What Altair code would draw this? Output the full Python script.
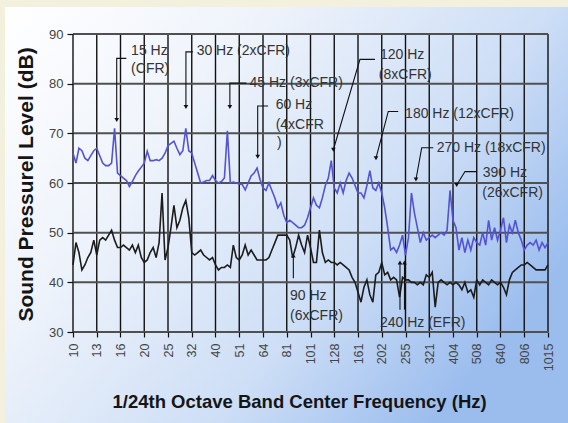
import json
import altair as alt
import pandas as pd

# ---------------- data ----------------
tick_labels = ['10', '13', '16', '20', '25', '32', '40', '51', '64', '81', '101',
               '128', '161', '202', '255', '321', '404', '508', '640', '806', '1015']
y_ticks = [30, 40, 50, 60, 70, 80, 90]

# 1/24th-octave band levels (dB), starting at 10 Hz
blue_spl = [
    66, 64, 67, 66.5, 65, 64.5, 65.5, 66.5,
    67, 65.5, 64, 63.5, 63.5, 64, 71, 62,
    61.5, 61, 60.5, 59.3, 60.3, 61.5, 62.4, 63.2,
    64, 66.4, 64.5, 64.5, 64.7, 64.5, 65, 66,
    67.5, 68, 68.4, 67, 65.7, 66.5, 71, 66.5,
    66, 64, 62, 60, 60.2, 60.5, 60.5, 61.5,
    60.5, 60, 60.3, 61, 70.5, 60, 60.2, 60,
    59.8, 59.7, 58.6, 60, 61.4, 62, 63, 60.7,
    59, 58.5, 60, 58.5, 57, 55, 56, 53.5,
    52, 52.5, 52, 51.5, 51, 51, 51.5, 53,
    55, 57, 55.5, 55, 57, 59.5, 61, 64.5,
    59, 58, 60, 58, 60.5, 62, 61, 59.5,
    58, 58, 57, 59.5, 62.5, 59, 58.5, 60,
    58, 55, 51, 46.5, 47, 46, 47.5, 49.5,
    45.5, 49, 58, 54, 51, 48, 50, 48.5,
    49, 49.5, 49, 49.5, 50, 49.5, 50.5, 58.5,
    52.5, 51, 46.5, 49, 46, 48.5, 46.5, 49,
    48, 47.5, 50, 47.5, 52.5, 48.5, 51, 48.5,
    50.5, 53, 48, 51.5, 50, 52.5, 50, 48.5,
    46.5, 47.5, 48, 47.5, 48.5, 46.5, 48, 47,
    48,
]
black_spl = [
    43.5, 48, 46, 42.5, 43.5, 45, 46, 48.5,
    45.5, 48.5, 49, 48.5, 49.5, 50.5, 48.5, 47,
    47, 47.5, 47, 46.5, 47.5, 46, 47.5, 45,
    44, 44.5, 46, 47, 45, 48, 58, 44.5,
    47, 51, 55.5, 51, 52.5, 55, 56.5, 53,
    46, 45.5, 46, 46.5, 45.5, 45, 44.5, 45,
    43.5, 42.5, 43, 43, 43.5, 43, 47.5, 45,
    44.5, 45.5, 47.5, 45.5, 46.5, 45.5, 44.5, 44.5,
    44.5, 44.5, 45, 46.5, 48, 49.5, 49.5, 49.5,
    49.5, 48.5, 45, 47, 49.5, 47.5, 46, 49.5,
    47, 44, 44, 50.5, 46, 44, 44.5, 44,
    44, 43.5, 44, 43.5, 43, 42.5, 41, 40,
    38, 36, 39, 40.5, 37.5, 36, 41.5, 42,
    44, 41.5, 42, 40.5, 41, 40.5, 37, 41,
    40.5, 40.5, 40, 40, 39.5, 40, 39.5, 41.5,
    41, 42, 35, 40, 40.5, 40, 39.5, 40,
    39.5, 40, 39.5, 38.5, 40, 38, 38.5, 37,
    40.5, 39.5, 40.5, 40, 39.5, 40.5, 40, 39.5,
    40, 39, 37.5, 40.5, 42, 42.5, 43, 43.5,
    43.5, 44, 43.5, 43, 42.5, 42.5, 42.5, 42.5,
    43.5,
]

# annotation texts: (text, freq Hz, dB)
ann_text = [
    ("15 Hz", 17.6, 86.6), ("(CFR)", 17.6, 83.0),
    ("30 Hz (2xCFR)", 33.3, 86.6),
    ("45 Hz (3xCFR)", 55.7, 80.1),
    ("60 Hz", 71.8, 75.7), ("(4xCFR", 71.8, 71.7), (")", 72.7, 68.1),
    ("120 Hz", 198, 85.8), ("(8xCFR)", 196, 81.8),
    ("180 Hz (12xCFR)", 253, 73.9),
    ("270 Hz (18xCFR)", 344, 67.0),
    ("390 Hz", 538, 62.0), ("(26xCFR)", 536, 58.0),
    ("90 Hz", 82.6, 37.3), ("(6xCFR)", 82.6, 33.3),
    ("240 Hz (EFR)", 198, 31.9),
]
# leader lines: id -> list of (freq Hz, dB), last point is the arrow tip
leaders = {
    "15": [(16.8, 85.1), (15.3, 85.1), (15.3, 72.7)],
    "30": [(32.1, 86.4), (30.0, 86.4), (30.0, 75.3)],
    "45": [(54.0, 80.1), (46.0, 80.1), (46.0, 75.3)],
    "60": [(66.7, 75.5), (60.3, 75.5), (60.3, 65.3)],
    "120": [(188.7, 84.9), (163.1, 84.9), (125.9, 66.7)],
    "180": [(236.7, 74.4), (214.8, 74.4), (190.6, 65.0)],
    "270": [(332.8, 67.1), (297.4, 67.1), (281.2, 60.7)],
    "390": [(508.0, 62.3), (453.1, 62.3), (417.9, 59.6)],
    "90": [(85.3, 40.8), (85.3, 45.4)],
    "240a": [(240.7, 34.5), (240.7, 44.0)],
    "240b": [(251.5, 34.5), (251.5, 44.0)],
}
up_arrows = ["90", "240a", "240b"]

# ---------------- tables ----------------
n = len(blue_spl)
freqs = [10 * 2 ** (i / 24) for i in range(n)]
tick_values = [10 * 2 ** (k / 3) for k in range(len(tick_labels))]

lines_df = pd.concat([
    pd.DataFrame({"freq": freqs, "spl": blue_spl, "series": "A", "idx": range(n)}),
    pd.DataFrame({"freq": freqs, "spl": black_spl, "series": "B", "idx": range(n)}),
])
vgrid_df = pd.DataFrame({"freq": tick_values})
hgrid_df = pd.DataFrame({"spl": y_ticks})
text_df = pd.DataFrame(ann_text, columns=["label", "freq", "spl"])
lead_rows, tip_rows = [], []
for key, pts in leaders.items():
    for j, (f, v) in enumerate(pts):
        lead_rows.append({"id": key, "ord": j, "freq": f, "spl": v})
    tip_rows.append({"id": key, "freq": pts[-1][0], "spl": pts[-1][1],
                     "shape": "triangle-up" if key in up_arrows else "triangle-down"})
lead_df = pd.DataFrame(lead_rows)
tip_df = pd.DataFrame(tip_rows)

# ---------------- scales / axes ----------------
FONT = "Liberation Sans"
label_expr = json.dumps(tick_labels) + "[round(3*log(datum.value/10)/log(2))]"
xscale = alt.Scale(type="log", domain=[10, tick_values[-1]], nice=False, zero=False)
yscale = alt.Scale(domain=[30, 90], nice=False, zero=False)
xaxis = alt.Axis(values=tick_values, labelExpr=label_expr, labelAngle=270,
                 labelAlign="right", labelBaseline="middle", labelFontSize=12.5,
                 labelFont=FONT, labelColor="#444444", labelPadding=6,
                 labelOverlap=False, labelFlush=False,
                 tickSize=5, tickColor="#111111", tickWidth=1.2,
                 domain=False, grid=False, zindex=1,
                 title="1/24th Octave Band Center Frequency (Hz)",
                 titleFont=FONT, titleFontSize=18.5, titleFontWeight="bold",
                 titleColor="#151515", titleX=39, titleY=69,
                 titleAlign="left", titleBaseline="middle")
yaxis = alt.Axis(values=y_ticks, labelFontSize=13, labelFont=FONT,
                 labelColor="#444444", labelPadding=4,
                 tickSize=6, tickColor="#111111", tickWidth=1.2,
                 domain=False, grid=False, zindex=1,
                 title="Sound Pressurel Level (dB)",
                 titleFont=FONT, titleFontSize=21, titleFontWeight="bold",
                 titleColor="#151515", titleAngle=270, titleX=-47, titleY=150,
                 titleAlign="center", titleBaseline="middle")

X = alt.X("freq:Q", scale=xscale, axis=xaxis)
Y = alt.Y("spl:Q", scale=yscale, axis=yaxis)

gradient = alt.LinearGradient(
    gradient="linear", x1=0, y1=0, x2=1, y2=0.6,
    stops=[alt.GradientStop(color="#ffffff", offset=0),
           alt.GradientStop(color="#eef3fb", offset=0.35),
           alt.GradientStop(color="#cddef6", offset=0.72),
           alt.GradientStop(color="#9bbdee", offset=1)])

bg = alt.Chart(alt.Data(values=[{}])).mark_rect(color=gradient).encode(
    x=alt.value(-68), x2=alt.value(495), y=alt.value(-27), y2=alt.value(389))

vgrid = alt.Chart(vgrid_df).mark_rule(color="#111111", strokeWidth=1.4).encode(x=X)
hgrid = alt.Chart(hgrid_df).mark_rule(color="#505050", strokeWidth=2).encode(y=Y)

lines = alt.Chart(lines_df).mark_line(strokeWidth=1.6).encode(
    x=X, y=Y,
    color=alt.Color("series:N", scale=alt.Scale(domain=["A", "B"], range=["#5353d4", "#1c1c1c"]),
                    legend=None),
    order="idx:Q")

lead = alt.Chart(lead_df).mark_line(color="#111111", strokeWidth=1.1).encode(
    x=X, y=Y, detail="id:N", order="ord:Q")

tips = alt.Chart(tip_df).mark_point(filled=True, color="#111111", size=22, opacity=1).encode(
    x=X, y=Y,
    shape=alt.Shape("shape:N", scale=None))

texts = alt.Chart(text_df).mark_text(align="left", baseline="middle", font=FONT,
                                     fontSize=14, color="#333333").encode(
    x=X, y=Y, text="label:N")

chart = alt.layer(bg, vgrid, hgrid, lines, lead, tips, texts).properties(
    width=475, height=298,
    autosize=alt.AutoSizeParams(type="none"),
    padding={"left": 73, "top": 34, "right": 20, "bottom": 91},
    background="#f3f1de",
).configure_view(stroke=None)

chart.save("out.html", embed_options={"renderer": "svg", "actions": False})
